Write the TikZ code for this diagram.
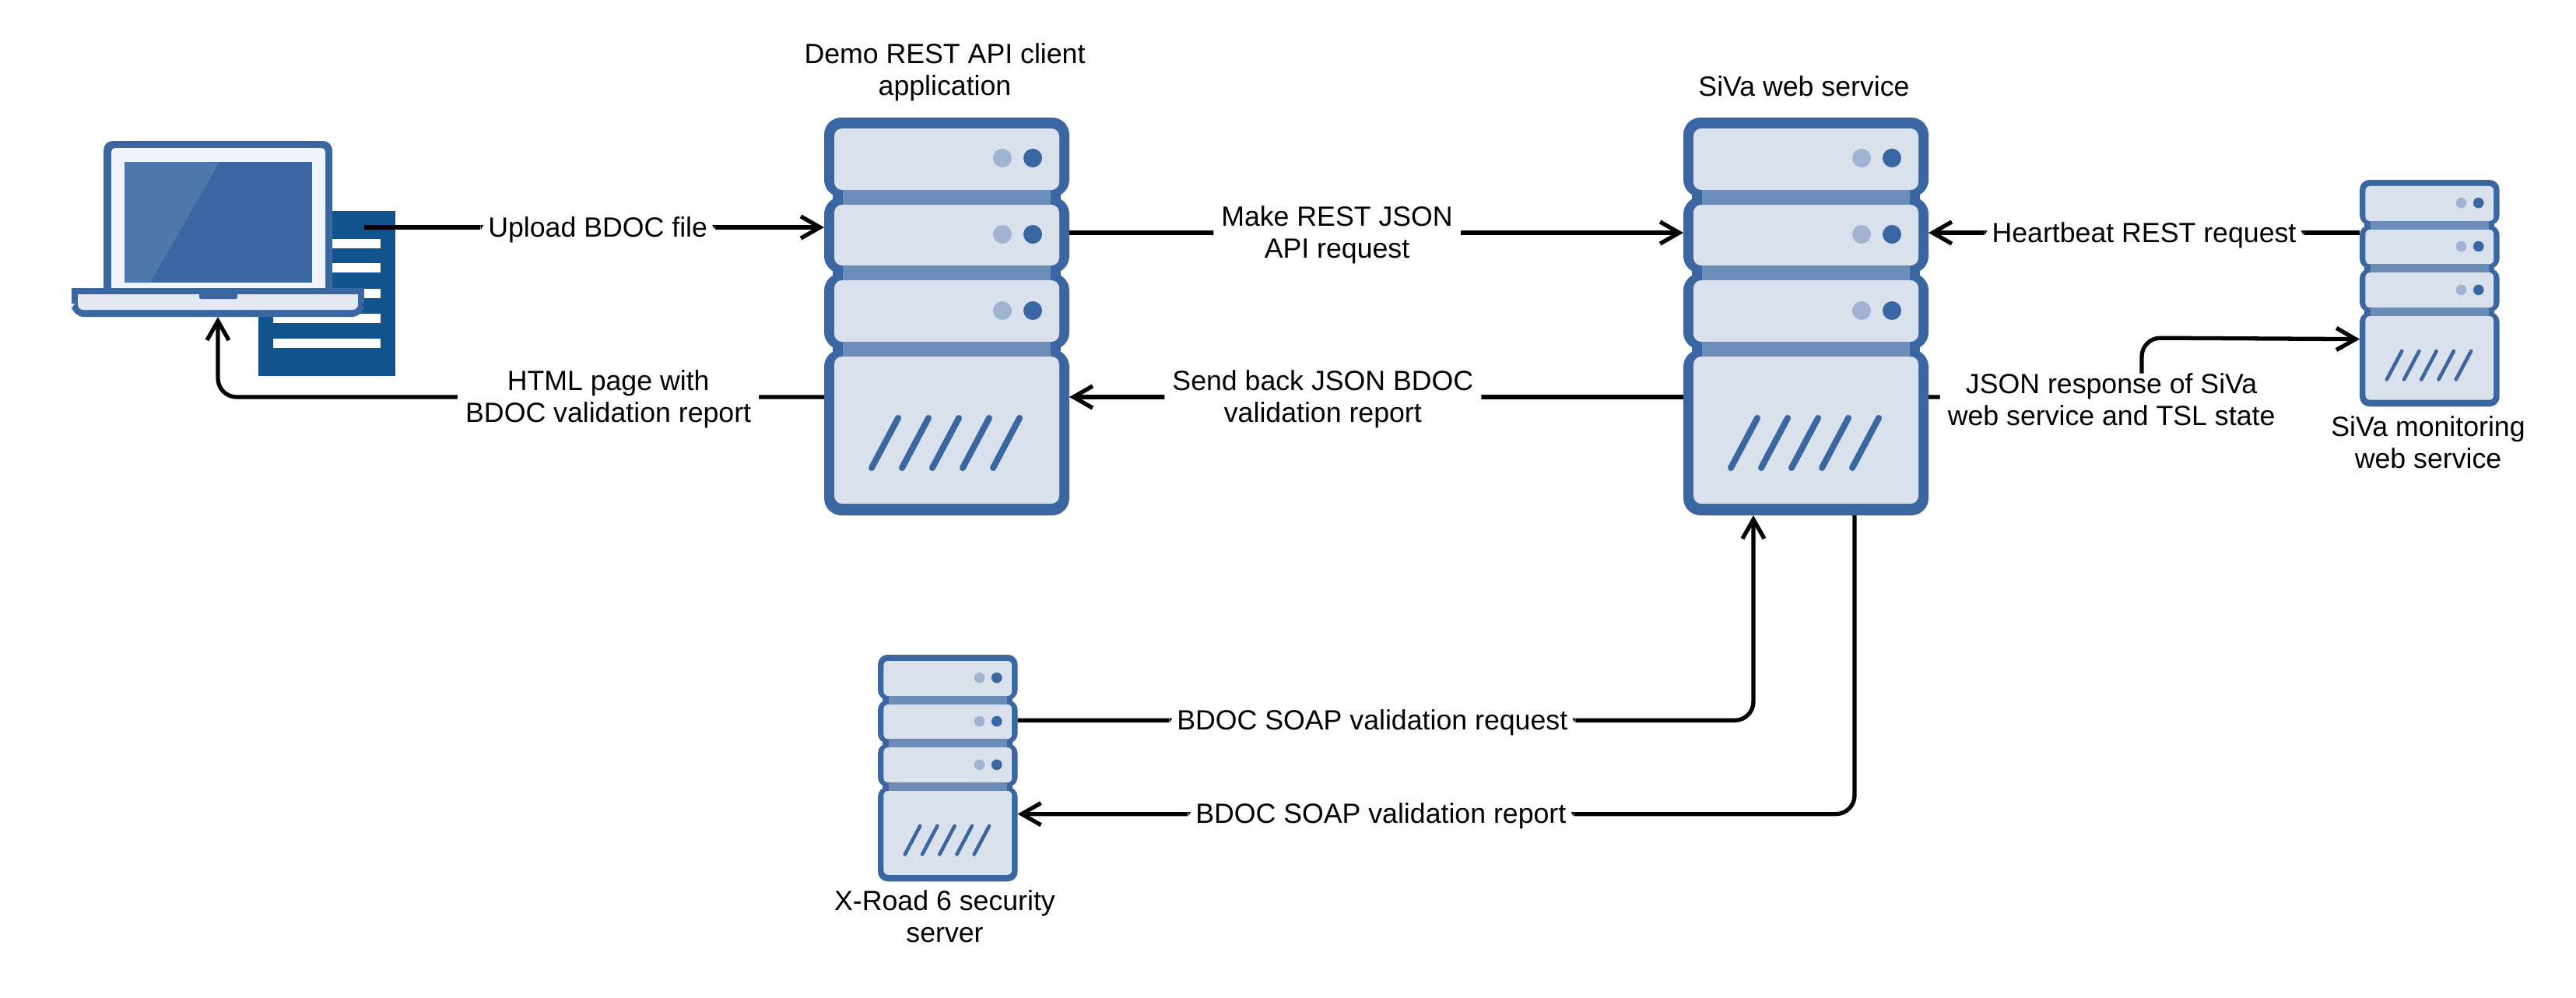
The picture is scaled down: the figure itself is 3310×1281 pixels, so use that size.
\documentclass[tikz,border=0pt]{standalone}
\usepackage{fontspec}
\setmainfont{Liberation Sans}
\usetikzlibrary{arrows.meta}
\definecolor{frameblue}{HTML}{3A66A2}
\definecolor{bandblue}{HTML}{6C8DB8}
\definecolor{paleblue}{HTML}{D9E1ED}
\definecolor{dotblue}{HTML}{A0B4D1}
\definecolor{sheetblue}{HTML}{10538F}
\definecolor{glareblue}{HTML}{4F78AC}
\definecolor{lidwhite}{HTML}{F1F4F9}
\definecolor{basewhite}{HTML}{E3E8F2}
\tikzset{
    boxnode/.style={inner sep=0pt, outer sep=0pt},
    caption/.style={align=center, font=\fontsize{10.15}{11.6}\selectfont},
    linelabel/.style={caption, fill=white, inner xsep=0.1cm, inner ysep=0pt, yshift=-0.03cm},
    link/.style={draw=black, line width=1.5pt, rounded corners=0.24cm, >={Straight Barb[length=7pt, width=8pt]}},
}
\begin{document}
\begin{tikzpicture}[x=0.01cm, y=-0.01cm]
    \useasboundingbox (0, 0) rectangle (3310, 1281);

    % file sheet behind the laptop
    \node (docfile) [boxnode, fill=sheetblue, minimum width=1.76cm, minimum height=2.12cm] at (420, 377) {};
    \foreach \j in {307, 338, 371, 403, 435} {
        \fill[white] (351, \j) rectangle (489, \j+12);
    };
    \coordinate (docout) at (468, 292);

    % laptop
    \node (laptop) [boxnode, minimum width=3.76cm, minimum height=2.26cm] at (280, 294) {};
    \fill[frameblue, rounded corners=0.12cm] (133, 181) rectangle (427, 390);
    \fill[lidwhite, rounded corners=0.05cm] (143, 190) rectangle (418, 385);
    \fill[frameblue] (160, 208) rectangle (401, 363);
    \fill[glareblue] (160, 208) -- (282, 208) -- (193, 363) -- (160, 363) -- cycle;
    \fill[frameblue, rounded corners=0.16cm] (92, 385) rectangle (468, 407);
    \fill[frameblue] (92, 370) rectangle (468, 390);
    \fill[basewhite, rounded corners=0.07cm] (100, 385) rectangle (460, 398);
    \fill[basewhite] (100, 378) rectangle (460, 390);
    \fill[frameblue, rounded corners=0.02cm] (256, 375) rectangle (305, 384);

    % server stacks, drawn in a 315 by 511 frame
    \foreach \name/\px/\py/\s in {client/1059/151/1, siva/2163/151/1, monitor/3032/231/0.57, xroad/1128/841/0.57} {
        \begin{scope}[shift={(\px, \py)}, scale=\s]
            \node (\name) [boxnode, minimum width=3.15cm*\s, minimum height=5.11cm*\s] at (157.5, 255.5) {};
            \foreach \ya/\yb in {0/102, 102/200, 200/298, 298/511} {
                \fill[frameblue, rounded corners=0.22cm*\s] (0, \ya) rectangle (315, \yb);
            };
            \foreach \ya/\yb in {88/116, 186/214, 284/312} {
                \fill[frameblue] (11, \ya) rectangle (304, \yb);
            };
            \foreach \ya/\yb in {14/93, 112/190, 209/288, 307/496} {
                \fill[paleblue, rounded corners=0.1cm*\s] (13, \ya) rectangle (302, \yb);
            };
            \foreach \ya in {93, 190, 288} {
                \fill[bandblue] (24, \ya) rectangle (291, \ya+19);
            };
            \foreach \j in {52, 150, 248} {
                \fill[dotblue] (229, \j) circle (12);
                \fill[frameblue] (268, \j) circle (12);
            };
            \foreach \i in {0,...,4} {
                \draw[frameblue, line width=0.08cm*\s, line cap=round] (61+39*\i, 450) -- (95+39*\i, 386);
            };
            \coordinate (\name-l2) at (0, 148);
            \coordinate (\name-r2) at (315, 148);
            \coordinate (\name-l4) at (0, 359);
            \coordinate (\name-r4) at (315, 359);
            \coordinate (\name-b1) at (90, 511);
            \coordinate (\name-b2) at (220, 511);
        \end{scope}
    };

    % captions
    \node (clientname) [caption] at (1214, 93) {Demo REST API client\\application};
    \node (sivaname) [caption] at (2318, 111) {SiVa web service};
    \node (monitorname) [caption] at (3120, 568) {SiVa monitoring\\web service};
    \node (xroadname) [caption] at (1214, 1177) {X-Road 6 security\\server};

    % connectors
    \coordinate (jsonbend) at (2752, 434);
    \draw[link, ->] (docout) -- node[linelabel, pos=0.508] (lblupload) {Upload BDOC file} (docout -| client.west);
    \draw[link, ->] (client-l4) -| node[linelabel, pos=0.178] (lblhtml) {HTML page with\\BDOC validation report} (laptop.south);
    \draw[link, ->] (client-r2) -- node[linelabel, pos=0.436] (lblmake) {Make REST JSON\\API request} (siva-l2);
    \draw[link, ->] (siva-l4) -- node[linelabel, pos=0.587] (lblsend) {Send back JSON BDOC\\validation report} (client-r4);
    \draw[link, ->] (siva-r2 -| monitor.west) -- node[linelabel, pos=0.5] (lblbeat) {Heartbeat REST request} (siva-r2);
    \draw[link, ->] (siva-r4) -| node[linelabel, pos=0.429] (lbljson) {JSON response of SiVa\\web service and TSL state} (jsonbend) -- (monitor-l4);
    \draw[link, ->] (xroad-r2) -| node[linelabel, pos=0.241] (lblsoapreq) {BDOC SOAP validation request} (siva-b1);
    \draw[link, ->] (siva-b2) |- node[linelabel, pos=0.783] (lblsoaprep) {BDOC SOAP validation report} (xroad-r4);
\end{tikzpicture}
\end{document}
